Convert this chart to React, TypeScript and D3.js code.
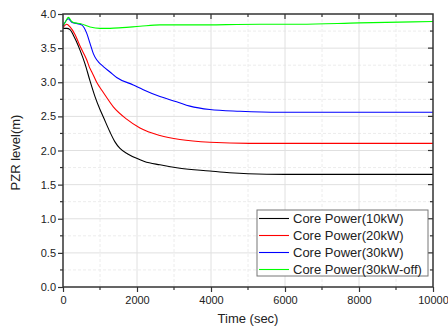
import React, { useEffect, useRef } from "react";
import * as d3 from "d3";

const W = 448;
const H = 331;
const M = { left: 63, right: 15, top: 14, bottom: 44 };

const xTicks = [0, 2000, 4000, 6000, 8000, 10000];
const yTicks = [0.0, 0.5, 1.0, 1.5, 2.0, 2.5, 3.0, 3.5, 4.0];

const seriesNames = ["Core Power(10kW)", "Core Power(20kW)", "Core Power(30kW)", "Core Power(30kW-off)"];
const seriesColors = ["#000000", "#ff0000", "#0000ff", "#00ff00"];

const blackT = [0, 100, 190, 280, 360, 460, 595, 730, 865, 1000, 1090, 1270, 1400, 1540, 1750, 1990, 2200, 2620, 3160, 3970, 4500, 5000, 6000, 8000, 10000];
const blackV = [3.79, 3.79, 3.77, 3.69, 3.6, 3.47, 3.27, 3.02, 2.79, 2.6, 2.49, 2.27, 2.13, 2.03, 1.95, 1.885, 1.84, 1.79, 1.74, 1.7, 1.675, 1.66, 1.65, 1.65, 1.65];

const redT = [0, 100, 190, 324, 460, 640, 730, 775, 910, 1090, 1360, 1720, 2080, 2620, 3160, 3970, 5050, 6000, 8000, 10000];
const redV = [3.8, 3.85, 3.81, 3.7, 3.53, 3.33, 3.2, 3.155, 3.0, 2.85, 2.64, 2.46, 2.33, 2.22, 2.16, 2.12, 2.105, 2.105, 2.105, 2.105];

const blueT = [0, 145, 235, 460, 505, 640, 730, 820, 910, 955, 1090, 1270, 1450, 1900, 2170, 2620, 3070, 3430, 3970, 4780, 5860, 8000, 10000];
const blueV = [3.82, 3.93, 3.88, 3.85, 3.84, 3.72, 3.57, 3.42, 3.33, 3.3, 3.23, 3.15, 3.07, 2.96, 2.89, 2.79, 2.715, 2.65, 2.6, 2.575, 2.56, 2.56, 2.56];

const greenT = [0, 60, 145, 235, 320, 460, 730, 1000, 1270, 1600, 2080, 2620, 3510, 5320, 6400, 8000, 10000];
const greenV = [3.83, 3.88, 3.95, 3.89, 3.87, 3.86, 3.81, 3.79, 3.79, 3.8, 3.82, 3.84, 3.84, 3.85, 3.85, 3.87, 3.89];

const seriesT = [blackT, redT, blueT, greenT];
const seriesV = [blackV, redV, blueV, greenV];

export default function App() {
  const ref = useRef<SVGSVGElement>(null);

  useEffect(() => {
    const svg = d3.select(ref.current);
    svg.selectAll("*").remove();
    const x = d3.scaleLinear().domain([0, 10000]).range([M.left, W - M.right]);
    const y = d3.scaleLinear().domain([0, 4]).range([H - M.bottom, M.top]);
    const font = "'Liberation Sans', Arial, sans-serif";
    const x0 = M.left, x1 = W - M.right, y0 = H - M.bottom, y1 = M.top;

    const minorX = d3.range(1000, 10000, 2000);
    const minorY = d3.range(0.25, 4, 0.5);

    const g = svg.append("g");
    g.selectAll(".mgx").data(minorX).enter().append("line")
      .attr("x1", (d) => x(d)).attr("x2", (d) => x(d)).attr("y1", y0).attr("y2", y1)
      .attr("stroke", "#ececec").attr("stroke-dasharray", "3,2").attr("stroke-width", 1);
    g.selectAll(".mgy").data(minorY).enter().append("line")
      .attr("y1", (d) => y(d)).attr("y2", (d) => y(d)).attr("x1", x0).attr("x2", x1)
      .attr("stroke", "#ececec").attr("stroke-dasharray", "3,2").attr("stroke-width", 1);
    g.selectAll(".gx").data(xTicks.slice(1, -1)).enter().append("line")
      .attr("x1", (d) => x(d)).attr("x2", (d) => x(d)).attr("y1", y0).attr("y2", y1)
      .attr("stroke", "#e0e0e0").attr("stroke-width", 1);
    g.selectAll(".gy").data(yTicks.slice(1, -1)).enter().append("line")
      .attr("y1", (d) => y(d)).attr("y2", (d) => y(d)).attr("x1", x0).attr("x2", x1)
      .attr("stroke", "#e0e0e0").attr("stroke-width", 1);

    const line = d3.line<[number, number]>().x((d) => x(d[0])).y((d) => y(d[1])).curve(d3.curveMonotoneX);
    seriesT.forEach((ts, i) => {
      const pts: [number, number][] = ts.map((t, j) => [t, seriesV[i][j]]);
      svg.append("path").attr("d", line(pts) as string).attr("fill", "none")
        .attr("stroke", seriesColors[i]).attr("stroke-width", 1.1);
    });

    const axisColor = "#333";
    svg.append("rect").attr("x", x0).attr("y", y1).attr("width", x1 - x0).attr("height", y0 - y1)
      .attr("fill", "none").attr("stroke", axisColor).attr("stroke-width", 1.5);

    const bottomAxis = d3.axisBottom(x).tickValues(xTicks).tickSize(5).tickFormat(d3.format("d") as any);
    const ba = svg.append("g").attr("transform", `translate(0,${y0})`).call(bottomAxis);
    const leftAxis = d3.axisLeft(y).tickValues(yTicks).tickSize(5).tickFormat(d3.format(".1f") as any);
    const la = svg.append("g").attr("transform", `translate(${x0},0)`).call(leftAxis);
    [ba, la].forEach((a) => {
      a.select(".domain").remove();
      a.selectAll("line").attr("stroke", axisColor).attr("stroke-width", 1.2);
      a.selectAll("text").attr("fill", "#222").style("font-family", font).style("font-size", "11px");
    });
    ba.selectAll("text").attr("dy", "0.85em");
    la.selectAll("text").attr("x", -7);

    svg.selectAll(".mtb").data(minorX).enter().append("line")
      .attr("x1", (d) => x(d)).attr("x2", (d) => x(d)).attr("y1", y0).attr("y2", y0 + 3)
      .attr("stroke", axisColor).attr("stroke-width", 1.2);
    svg.selectAll(".mtl").data(minorY).enter().append("line")
      .attr("y1", (d) => y(d)).attr("y2", (d) => y(d)).attr("x1", x0).attr("x2", x0 - 3)
      .attr("stroke", axisColor).attr("stroke-width", 1.2);
    const allX = xTicks.slice(1, -1).concat(minorX);
    const allY = yTicks.slice(1, -1).concat(minorY);
    svg.selectAll(".tt").data(allX).enter().append("line")
      .attr("x1", (d) => x(d)).attr("x2", (d) => x(d)).attr("y1", y1).attr("y2", (d) => y1 + (d % 2000 === 0 ? 5 : 3))
      .attr("stroke", axisColor).attr("stroke-width", 1.2);
    svg.selectAll(".tr").data(allY).enter().append("line")
      .attr("y1", (d) => y(d)).attr("y2", (d) => y(d)).attr("x1", x1).attr("x2", (d) => x1 - (Math.abs((d * 2) % 1) < 1e-6 ? 5 : 3))
      .attr("stroke", axisColor).attr("stroke-width", 1.2);

    svg.append("text").attr("x", (x0 + x1) / 2).attr("y", 323).attr("text-anchor", "middle")
      .style("font-family", font).style("font-size", "13px").attr("fill", "#222").text("Time (sec)");
    svg.append("text").attr("transform", `translate(20,${(y0 + y1) / 2 + 2}) rotate(-90)`).attr("text-anchor", "middle")
      .style("font-family", font).style("font-size", "13px").attr("fill", "#222").text("PZR level(m)");

    const lg = svg.append("g");
    lg.append("rect").attr("x", 257).attr("y", 210).attr("width", 171).attr("height", 66)
      .attr("fill", "#fff").attr("stroke", "#777").attr("stroke-width", 1);
    seriesNames.forEach((name, i) => {
      const ry = 218.5 + i * 17;
      lg.append("line").attr("x1", 259).attr("x2", 289).attr("y1", ry).attr("y2", ry)
        .attr("stroke", seriesColors[i]).attr("stroke-width", 1.1);
      lg.append("text").attr("x", 293).attr("y", ry + 4.7).style("font-family", font)
        .style("font-size", "13px").attr("fill", "#222").text(name);
    });
  }, []);

  return <svg ref={ref} width={W} height={H} style={{ position: "absolute", left: 0, top: 0, background: "#fff" }} />;
}
